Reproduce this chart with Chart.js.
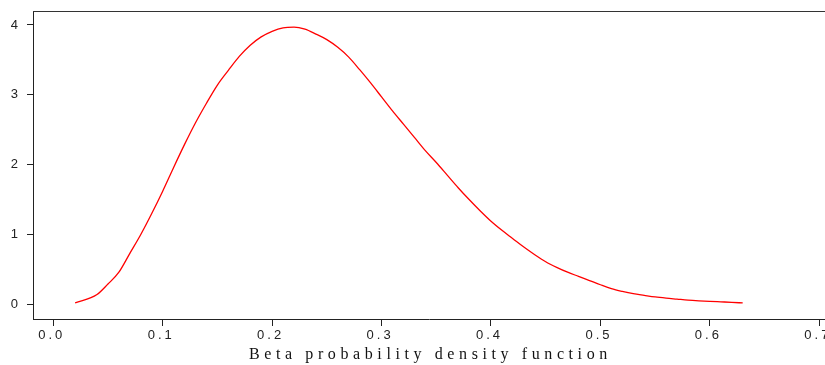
<!DOCTYPE html>
<html>
<head>
<meta charset="utf-8">
<script src="https://cdn.jsdelivr.net/npm/chart.js@4.4.1/dist/chart.umd.min.js"></script>
<style>
  html, body { margin: 0; padding: 0; background: #fff; }
  #wrap { width: 825px; height: 365px; }
</style>
</head>
<body>
<div id="wrap"><canvas id="beta"></canvas></div>
<script>
// values
var xValues = [0.02, 0.04, 0.05, 0.06, 0.07, 0.08, 0.09, 0.10, 0.11, 0.12, 0.13, 0.14,
  0.15, 0.16, 0.17, 0.18, 0.19, 0.20, 0.21, 0.22, 0.23, 0.24, 0.25, 0.26, 0.27, 0.28,
  0.29, 0.30, 0.31, 0.32, 0.33, 0.34, 0.35, 0.36, 0.37, 0.38, 0.39, 0.40, 0.41, 0.42,
  0.43, 0.44, 0.45, 0.46, 0.47, 0.48, 0.49, 0.50, 0.51, 0.52, 0.53, 0.54, 0.55, 0.56,
  0.57, 0.58, 0.59, 0.60, 0.61, 0.62, 0.63];
var yValues = [0.02, 0.14, 0.29, 0.46, 0.73, 1.00, 1.30, 1.62, 1.96, 2.29, 2.60, 2.88,
  3.14, 3.35, 3.55, 3.71, 3.83, 3.91, 3.96, 3.97, 3.94, 3.87, 3.79, 3.68, 3.54, 3.36,
  3.17, 2.97, 2.77, 2.58, 2.39, 2.20, 2.03, 1.85, 1.67, 1.50, 1.34, 1.19, 1.06, 0.94,
  0.82, 0.71, 0.61, 0.53, 0.46, 0.40, 0.34, 0.28, 0.225, 0.185, 0.152, 0.128, 0.105, 0.088,
  0.074, 0.060, 0.050, 0.042, 0.035, 0.028, 0.019];
var xTicks = [0.0, 0.1, 0.2, 0.3, 0.4, 0.5, 0.6, 0.7];
var yTicks = [0, 1, 2, 3, 4];
var chartTitle = "Beta probability density function";

var points = xValues.map(function (x, i) { return {x: x, y: yValues[i]}; });

// spaced-out x tick labels, top frame line and the bottom title
var decor = {
  id: 'decor',
  afterDraw: function (chart) {
    var ctx = chart.ctx, a = chart.chartArea, xs = chart.scales.x;
    ctx.save();
    ctx.strokeStyle = '#333';
    ctx.lineWidth = 1;
    ctx.beginPath();
    ctx.moveTo(a.left, a.top + 0.5);
    ctx.lineTo(a.right, a.top + 0.5);
    ctx.stroke();

    ctx.fillStyle = '#222';
    ctx.textAlign = 'left';
    ctx.textBaseline = 'alphabetic';
    ctx.letterSpacing = '3px';
    ctx.font = '13px "Liberation Sans", Arial, sans-serif';
    xTicks.forEach(function (v) {
      ctx.fillText(v.toFixed(1), xs.getPixelForValue(v) - 15, 339);
    });

    ctx.letterSpacing = '4.6px';
    ctx.font = '16px "Liberation Serif", "Times New Roman", serif';
    ctx.fillStyle = '#111';
    ctx.fillText(chartTitle, 249, 359);
    ctx.restore();
  }
};

new Chart("beta", {
  type: "line",
  data: {
    datasets: [{
      data: points,
      borderColor: "#ff0000",
      borderWidth: 1.3,
      pointRadius: 0,
      cubicInterpolationMode: 'monotone',
      fill: false
    }]
  },
  options: {
    responsive: true,
    maintainAspectRatio: false,
    animation: false,
    layout: {autoPadding: false, padding: {top: 11, right: 0, left: 0, bottom: 0}},
    plugins: {legend: {display: false}, tooltip: {enabled: false}, title: {display: false}},
    scales: {
      x: {
        type: "linear",
        min: -0.0185,
        max: 0.7052,
        afterBuildTicks: function (s) { s.ticks = xTicks.map(function (v) { return {value: v}; }); },
        afterFit: function (s) { s.height = 46; s.paddingLeft = 0; s.paddingRight = 0; },
        grid: {drawOnChartArea: false, drawTicks: true, tickLength: 7, color: '#222'},
        border: {display: true, color: '#222', width: 1},
        ticks: {display: false}
      },
      y: {
        min: -0.2105,
        max: 4.2005,
        afterBuildTicks: function (s) { s.ticks = yTicks.map(function (v) { return {value: v}; }); },
        afterFit: function (s) { s.width = 33; s.paddingTop = 0; s.paddingBottom = 0; },
        grid: {drawOnChartArea: false, drawTicks: true, tickLength: 6, color: '#222'},
        border: {display: true, color: '#222', width: 1},
        ticks: {
          padding: 9, color: '#222',
          font: {family: '"Liberation Sans", Arial, sans-serif', size: 13}
        }
      }
    }
  },
  plugins: [decor]
});
</script>
</body>
</html>
